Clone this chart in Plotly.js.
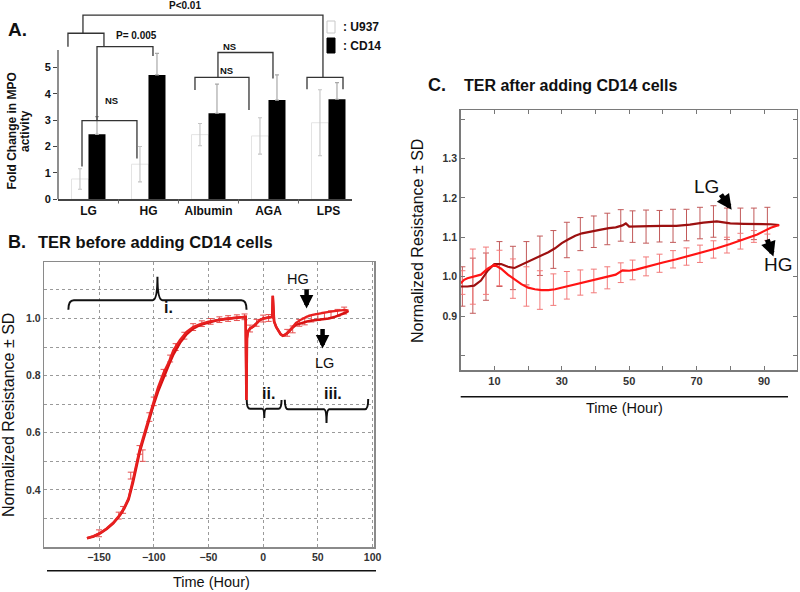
<!DOCTYPE html>
<html><head><meta charset="utf-8">
<script src="https://cdn.plot.ly/plotly-3.0.1.min.js"></script>
<style>body{margin:0;background:#fff}#chart{width:800px;height:592px}</style>
</head><body><div id="chart"></div>
<script>
// ---------- Panel A data ----------
const categories = ['LG', 'HG', 'Albumin', 'AGA', 'LPS'];
const catPos = [0, 1, 2, 3, 4];
const u937 = [0.77, 1.33, 2.45, 2.4, 2.9];
const u937Err = [0.39, 0.67, 0.42, 0.69, 1.25];
const cd14 = [2.46, 4.71, 3.26, 3.76, 3.79];
const cd14Err = [0.67, 0.82, 1.1, 0.95, 0.63];
const cd14ErrMinus = [0, 0, 0, 0, 0];

// ---------- Panel B data ----------
const bTime = [-161,-155,-149,-143,-137,-131,-127,-123,-119,-116,-113,-110,-107,-104,-100,-96,-91,-86,-82,-76,-70,-64,-58,-50,-43,-35,-27,-21,-16,
  -15.3,-14.8,-14,-12,-9,-6,-3,0,4,7,8.3,8.8,9.3,10,12,14,16,18,20,23,26,
  30,35,40,45,50,55,60,65,70,75,78];
const bHG = [0.231,0.238,0.249,0.265,0.285,0.313,0.338,0.371,0.435,0.49,0.54,0.58,0.62,0.665,0.71,0.76,0.81,0.85,0.89,0.925,0.953,0.97,0.98,0.989,0.994,0.999,1.002,1.004,1.006,
  0.715,0.93,0.955,0.965,0.972,0.985,0.995,1.0,1.002,1.004,1.006,1.08,1.01,0.99,0.97,0.955,0.945,0.94,0.943,0.952,0.965,
  0.985,0.997,1.007,1.013,1.017,1.02,1.023,1.026,1.028,1.03,1.028];
const bLG = [0.231,0.237,0.248,0.263,0.283,0.31,0.334,0.366,0.425,0.48,0.53,0.57,0.61,0.652,0.7,0.745,0.795,0.84,0.875,0.915,0.945,0.965,0.977,0.987,0.993,0.998,1.001,1.003,1.006,
  0.715,0.93,0.955,0.965,0.972,0.985,0.995,1.0,1.002,1.004,1.006,1.08,1.01,0.99,0.97,0.955,0.945,0.94,0.943,0.952,0.965,
  0.978,0.985,0.99,0.993,0.995,0.998,1.0,1.005,1.012,1.02,1.027];
const bErrTime = [-150,-132,-128,-121,-113,-110,-104,-100,-91,-85,-80,-72,-64,-56,-48,-40,-32,-24,-17,-12,-6,0,5,22,27,33,38,44,50,56,62,68,74];
const bErrVal = [0.248,0.31,0.33,0.45,0.54,0.52,0.655,0.71,0.81,0.86,0.9,0.94,0.97,0.982,0.99,0.996,1.0,1.003,1.006,0.965,0.985,1.0,1.002,0.95,0.962,0.985,0.99,1.0,1.005,1.01,1.015,1.02,1.028];
const bErrSD = [0.012,0.012,0.012,0.012,0.015,0.02,0.015,0.015,0.012,0.012,0.012,0.012,0.012,0.01,0.01,0.01,0.01,0.01,0.01,0.012,0.012,0.012,0.012,0.012,0.012,0.012,0.012,0.012,0.012,0.012,0.012,0.012,0.012];
const bTicks = [-150, -100, -50, 0, 50, 100];
const bYTicks = [0.3, 0.4, 0.5, 0.6, 0.7, 0.8, 0.9, 1.0, 1.1];
const bYLabels = ['', '0.4', '', '0.6', '', '0.8', '', '1.0', ''];

// ---------- Panel C data ----------
const cTime = [0,2,4,6,8,10,12,14,16,18,20,22,24,26,28,30,32,34,36,38,40,42,44,46,48,49,50,52,56,60,64,68,72,76,80,84,88,92,94.5];
const cLG = [0.975,0.975,0.977,0.99,1.015,1.032,1.032,1.025,1.022,1.03,1.036,1.045,1.053,1.062,1.072,1.085,1.095,1.104,1.11,1.114,1.117,1.12,1.123,1.125,1.13,1.135,1.127,1.127,1.128,1.129,1.129,1.132,1.137,1.14,1.135,1.134,1.134,1.133,1.131];
const cHGTime = [0,1,2,4,6,8,10,12,14,16,18,20,22,24,26,28,30,32,34,36,38,40,42,44,46,48,50,52,56,60,64,68,72,76,80,84,88,92,94.5];
const cHG = [0.983,0.992,0.996,1.0,1.005,1.02,1.03,1.02,1.005,0.993,0.981,0.972,0.968,0.966,0.966,0.968,0.972,0.977,0.981,0.985,0.988,0.992,0.996,1.0,1.005,1.016,1.015,1.018,1.028,1.036,1.044,1.053,1.062,1.072,1.083,1.095,1.107,1.124,1.131];
const cErrTime = [0.5,3.6,7.5,11.5,15.5,19.5,23.5,27.5,31.5,35.5,39.5,43.5,47.5,51,55,59,63,67,71,75,79,83,87,91];
const cLGErrVal = [0.975,0.977,1.0,1.032,1.022,1.034,1.053,1.069,1.093,1.108,1.114,1.121,1.13,1.127,1.127,1.128,1.129,1.131,1.136,1.14,1.134,1.134,1.134,1.134];
const cLGErrSD = [0.05,0.07,0.06,0.057,0.055,0.055,0.05,0.048,0.045,0.042,0.04,0.04,0.04,0.04,0.042,0.04,0.042,0.04,0.04,0.04,0.04,0.04,0.04,0.042];
const cHGErrVal = [0.985,1.0,1.015,1.022,0.995,0.975,0.966,0.967,0.978,0.985,0.989,0.997,1.01,1.017,1.026,1.034,1.044,1.051,1.058,1.069,1.08,1.09,1.102,1.12];
const cHGErrSD = [0.03,0.07,0.06,0.045,0.05,0.05,0.049,0.04,0.035,0.032,0.03,0.028,0.025,0.025,0.024,0.023,0.022,0.022,0.022,0.022,0.02,0.02,0.015,0.012];
const cXTicks = [10,20,30,40,50,60,70,80,90];
const cXLabels = ['10','','30','','50','','70','','90'];
const cYTicks = [0.8,0.9,1.0,1.1,1.2,1.3,1.4];
const cYLabels = ['','0.9','1.0','1.1','1.2','1.3',''];

// ---------- helpers ----------
const W = 800, H = 592;
const P = v => v / W;
const Q = v => 1 - v / H;
const F = 'Liberation Sans, Arial, sans-serif';
const bold = (size, color) => ({family: F, size: size, weight: 'bold', color: color || '#111'});
const reg = (size) => ({family: F, size: size, color: '#111'});

const traces = [
  {type:'bar', name:'U937', x:catPos, y:u937, xaxis:'x', yaxis:'y',
   marker:{color:'#ffffff', line:{color:'#e4e4e4', width:1}},
   error_y:{type:'data', array:u937Err, color:'#c4c4c4', thickness:1.1, width:2}},
  {type:'bar', name:'CD14', x:catPos, y:cd14, xaxis:'x', yaxis:'y',
   marker:{color:'#000000'},
   error_y:{type:'data', symmetric:false, array:cd14Err, arrayminus:cd14ErrMinus, color:'#a8a8a8', thickness:1.2, width:2}},

  {type:'scatter', mode:'markers', x:bErrTime, y:bErrVal, xaxis:'x2', yaxis:'y2',
   marker:{size:1, color:'rgba(0,0,0,0)'},
   error_y:{type:'data', array:bErrSD, color:'#e55050', thickness:1, width:3}},
  {type:'scatter', mode:'lines', name:'LG', x:bTime, y:bLG, xaxis:'x2', yaxis:'y2',
   line:{color:'#d81212', width:2.6}},
  {type:'scatter', mode:'lines', name:'HG', x:bTime, y:bHG, xaxis:'x2', yaxis:'y2',
   line:{color:'#e82020', width:2.3}},

  {type:'scatter', mode:'markers', x:cErrTime, y:cLGErrVal, xaxis:'x3', yaxis:'y3',
   marker:{size:1, color:'rgba(0,0,0,0)'},
   error_y:{type:'data', array:cLGErrSD, color:'#c25a5a', thickness:1, width:3}},
  {type:'scatter', mode:'markers', x:cErrTime, y:cHGErrVal, xaxis:'x3', yaxis:'y3',
   marker:{size:1, color:'rgba(0,0,0,0)'},
   error_y:{type:'data', array:cHGErrSD, color:'#f27a7a', thickness:1, width:3}},
  {type:'scatter', mode:'lines', name:'LG', x:cTime, y:cLG, xaxis:'x3', yaxis:'y3',
   line:{color:'#9c1010', width:2.2}},
  {type:'scatter', mode:'lines', name:'HG', x:cHGTime, y:cHG, xaxis:'x3', yaxis:'y3',
   line:{color:'#ff1414', width:2.2}}
];

const brk = {color:'#333', width:1.3};
const brace = {color:'#111', width:2};
const shapes = [
  // panel A y-axis line
  {type:'line', xref:'paper', yref:'y', x0:P(58), x1:P(58), y0:0, y1:5.66, line:{color:'#444', width:1.2}},
  // panel A small x ticks between categories
  {type:'path', xref:'x', yref:'paper', path:'M 0.5,' + Q(199.3) + ' L 0.5,' + Q(203.5) + ' M 1.5,' + Q(199.3) + ' L 1.5,' + Q(203.5) + ' M 2.5,' + Q(199.3) + ' L 2.5,' + Q(203.5) + ' M 3.5,' + Q(199.3) + ' L 3.5,' + Q(203.5), line:{color:'#666', width:1}},
  // panel A significance brackets
  {type:'path', xref:'x', yref:'y', path:'M -0.108,1.24 L -0.108,2.98 L 0.808,2.98 L 0.808,1.55', line:brk},
  {type:'path', xref:'x', yref:'y', path:'M 0.142,2.98 L 0.142,5.78 L 1.075,5.78 L 1.075,5.43', line:brk},
  {type:'path', xref:'x', yref:'y', path:'M -0.342,5.78 L -0.342,6.29 L 0.258,6.29 L 0.258,5.78', line:brk},
  {type:'path', xref:'x', yref:'y', path:'M -0.092,6.29 L -0.092,6.98 L 3.908,6.98 L 3.908,4.62', line:brk},
  {type:'path', xref:'x', yref:'y', path:'M 3.642,4.17 L 3.642,4.62 L 4.242,4.62 L 4.242,4.17', line:brk},
  {type:'path', xref:'x', yref:'y', path:'M 1.775,4.14 L 1.775,4.62 L 2.675,4.62 L 2.675,3.38', line:brk},
  {type:'path', xref:'x', yref:'y', path:'M 2.158,4.62 L 2.158,5.56 L 3.075,5.56 L 3.075,4.58', line:brk},
  // legend swatches
  {type:'rect', xref:'paper', yref:'paper', x0:P(327), x1:P(335), y0:Q(33), y1:Q(21), fillcolor:'#fff', line:{color:'#c8c8c8', width:1}},
  {type:'rect', xref:'paper', yref:'paper', x0:P(327), x1:P(335), y0:Q(53), y1:Q(38), fillcolor:'#000', line:{color:'#000', width:1}},
  // panel B braces
  {type:'path', xref:'x2', yref:'y2', path:'M -178,1.031 Q -178,1.064 -173,1.064 L -101,1.064 Q -96.6,1.064 -96.6,1.146 Q -96.6,1.064 -92,1.064 L -20,1.064 Q -15.2,1.064 -15.2,1.031', line:brace},
  {type:'path', xref:'x2', yref:'y2', path:'M -15,0.715 Q -15,0.684 -12,0.684 L -1,0.684 Q 1,0.684 1,0.652 Q 1,0.684 3,0.684 L 14,0.684 Q 16.8,0.684 16.8,0.715', line:brace},
  {type:'path', xref:'x2', yref:'y2', path:'M 19.8,0.716 Q 19.8,0.682 23,0.682 L 55.5,0.682 Q 57.9,0.682 57.9,0.634 Q 57.9,0.682 60.5,0.682 L 93,0.682 Q 96,0.682 96,0.718', line:brace},
  // lines under B and C
  {type:'line', xref:'paper', yref:'paper', x0:P(47), x1:P(376), y0:Q(570.7), y1:Q(570.7), line:{color:'#111', width:1.5}},
  {type:'line', xref:'paper', yref:'paper', x0:P(460.7), x1:P(788), y0:Q(396.7), y1:Q(396.7), line:{color:'#111', width:1.5}}
];

const txt = (text, x, y, font, extra) => Object.assign({text, x, y, xref:'paper', yref:'paper', showarrow:false, font}, extra || {});
const dtxt = (text, x, y, xr, yr, font) => ({text, x, y, xref:xr, yref:yr, showarrow:false, font});
const arrow = (x, y, ax, ay, xr, yr, w, s) => ({text:'', x, y, ax, ay, xref:xr, yref:yr, axref:xr, ayref:yr, showarrow:true, arrowhead:2, arrowwidth:w, arrowsize:s, arrowcolor:'#000'});

const annotations = [
  // titles
  txt('A.', P(6), Q(30), bold(19), {xanchor:'left', yanchor:'middle'}),
  txt('B.', P(6), Q(242), bold(18), {xanchor:'left', yanchor:'middle'}),
  txt('TER before adding CD14 cells', P(36), Q(242), bold(16.5), {xanchor:'left', yanchor:'middle'}),
  txt('C.', P(426), Q(85), bold(18), {xanchor:'left', yanchor:'middle'}),
  txt('TER after adding CD14 cells', P(462), Q(85), bold(16), {xanchor:'left', yanchor:'middle'}),
  // legend text
  txt(': U937', P(341), Q(27), bold(12), {xanchor:'left', yanchor:'middle'}),
  txt(': CD14', P(341), Q(45.5), bold(12), {xanchor:'left', yanchor:'middle'}),
  // axis titles
  txt('Fold Change in MPO', P(11.5), Q(131), bold(12), {textangle:-90, xanchor:'center', yanchor:'middle'}),
  txt('activity', P(25), Q(131), bold(12), {textangle:-90, xanchor:'center', yanchor:'middle'}),
  txt('Normalized Resistance ± SD', P(8), Q(415), reg(16), {textangle:-90, xanchor:'center', yanchor:'middle'}),
  txt('Time (Hour)', P(211), Q(582), reg(14.5), {xanchor:'center', yanchor:'middle'}),
  txt('Normalized Resistance ± SD', P(418), Q(241), reg(16), {textangle:-90, xanchor:'center', yanchor:'middle'}),
  txt('Time (Hour)', P(624), Q(408), reg(14.5), {xanchor:'center', yanchor:'middle'}),
  // panel A stats
  dtxt('P<0.01', 1.608, 7.36, 'x', 'y', bold(10)),
  dtxt('P= 0.005', 0.803, 6.22, 'x', 'y', bold(10)),
  dtxt('NS', 0.387, 3.73, 'x', 'y', bold(9.5)),
  dtxt('NS', 2.358, 5.78, 'x', 'y', bold(9.5)),
  dtxt('NS', 2.303, 4.87, 'x', 'y', bold(9.5)),
  // panel B labels
  dtxt('i.', -86.9, 1.038, 'x2', 'y2', bold(16)),
  dtxt('ii.', 4.6, 0.738, 'x2', 'y2', bold(16)),
  dtxt('iii.', 64, 0.738, 'x2', 'y2', bold(16)),
  dtxt('HG', 32, 1.14, 'x2', 'y2', reg(14.5)),
  dtxt('LG', 56.4, 0.843, 'x2', 'y2', reg(14.5)),
  arrow(39.7, 1.035, 39.7, 1.108, 'x2', 'y2', 4.5, 0.6),
  arrow(54.3, 0.895, 54.3, 0.969, 'x2', 'y2', 4.5, 0.6),
  // panel C labels
  dtxt('LG', 73, 1.229, 'x3', 'y3', reg(19)),
  dtxt('HG', 94.2, 1.03, 'x3', 'y3', reg(19)),
  arrow(80.4, 1.170, 76.9, 1.212, 'x3', 'y3', 5, 0.6),
  arrow(92.8, 1.051, 90.8, 1.098, 'x3', 'y3', 5, 0.6)
];

const layout = {
  width: W, height: H,
  margin: {l:0, r:0, t:0, b:0},
  paper_bgcolor: '#fff', plot_bgcolor: '#fff',
  showlegend: false,
  barmode: 'group', bargap: 0.433, bargroupgap: 0,
  font: {family: F, color: '#111'},
  xaxis: {domain:[P(58), P(352)], anchor:'y', range:[-0.508, 4.392], tickmode:'array', tickvals:catPos, ticktext:categories,
    ticks:'', showline:true, linecolor:'#444', linewidth:1.2, zeroline:false, showgrid:false, tickfont:bold(12)},
  yaxis: {domain:[Q(199.3), Q(1.3)], anchor:'x', range:[0, 7.5], tickmode:'array', tickvals:[0,1,2,3,4,5],
    ticks:'outside', ticklen:4, tickcolor:'#444', showline:false, zeroline:false, showgrid:false, tickfont:bold(11)},
  xaxis2: {domain:[P(44.3), P(374)], anchor:'y2', range:[-200, 101.3], tickmode:'array', tickvals:bTicks,
    ticks:'', showline:true, mirror:true, linecolor:'#8a8a8a', linewidth:1.5, zeroline:false,
    showgrid:true, gridcolor:'#9a9a9a', griddash:'dot', gridwidth:1, tickfont:bold(10.5, '#333')},
  yaxis2: {domain:[Q(547), Q(262)], anchor:'x2', range:[0.2, 1.198], tickmode:'array', tickvals:bYTicks, ticktext:bYLabels,
    ticks:'', showline:true, mirror:true, linecolor:'#8a8a8a', linewidth:1.5, zeroline:false,
    showgrid:true, gridcolor:'#9a9a9a', griddash:'dot', gridwidth:1, tickfont:bold(10.5, '#333')},
  xaxis3: {domain:[P(460.7), P(796.7)], anchor:'y3', range:[0, 99.7], tickmode:'array', tickvals:cXTicks, ticktext:cXLabels,
    ticks:'inside', ticklen:4, tickcolor:'#777', showline:true, mirror:'ticks', linecolor:'#7a7a7a', linewidth:1.5,
    zeroline:false, showgrid:false, tickfont:bold(11, '#333')},
  yaxis3: {domain:[Q(370), Q(110)], anchor:'x3', range:[0.763, 1.423], tickmode:'array', tickvals:cYTicks, ticktext:cYLabels,
    ticks:'inside', ticklen:4, tickcolor:'#777', showline:true, mirror:'ticks', linecolor:'#7a7a7a', linewidth:1.5,
    zeroline:false, showgrid:false, tickfont:bold(10.5, '#333')},
  shapes: shapes,
  annotations: annotations
};

Plotly.newPlot('chart', traces, layout, {displayModeBar:false, staticPlot:true});
</script></body></html>
